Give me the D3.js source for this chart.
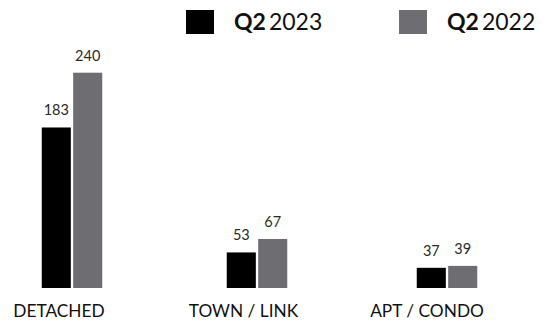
<!DOCTYPE html>
<html>
<head>
<meta charset="utf-8">
<script src="https://cdn.jsdelivr.net/npm/d3@7"></script>
<style>
  html, body { margin: 0; padding: 0; background: #fff; }
  svg { display: block; }
  text { font-family: Lato, "Open Sans", sans-serif; }
</style>
</head>
<body>
<svg id="chart" width="555" height="323"></svg>
<script>
const categories = ["DETACHED", "TOWN / LINK", "APT / CONDO"];
const seriesNames = ["2023", "2022"];
const legendPrefix = "Q2";
const values2023 = [183, 53, 37];
const values2022 = [240, 67, 39];
const seriesColors = ["#000000", "#6d6d72"];

const W = 555, H = 323;
const svg = d3.select("#chart");

const baseline = 288;
// bars appear drawn on a non-zero baseline in the reference
const y = d3.scaleLinear().domain([16, 240]).range([baseline, 72.7]);

const xCenter = d3.scaleOrdinal().domain(categories).range([72, 257, 447]);
const xLabel = d3.scaleOrdinal().domain(categories).range([59, 243.5, 427]);
const barW = 28, gap = 4.5;
const xSeries = d3.scaleBand().domain(seriesNames).range([-(barW + gap / 2), barW + gap / 2]).paddingInner(gap / (2 * barW + gap));

const data = [];
categories.forEach((c, i) => {
  data.push({ cat: c, s: seriesNames[0], v: values2023[i], color: seriesColors[0] });
  data.push({ cat: c, s: seriesNames[1], v: values2022[i], color: seriesColors[1] });
});

svg.selectAll("rect.bar").data(data).join("rect")
  .attr("class", "bar")
  .attr("x", d => xCenter(d.cat) + xSeries(d.s))
  .attr("width", xSeries.bandwidth())
  .attr("y", d => y(d.v))
  .attr("height", d => baseline - y(d.v))
  .attr("fill", d => d.color);

svg.selectAll("text.val").data(data).join("text")
  .attr("class", "val")
  .attr("x", d => xCenter(d.cat) + xSeries(d.s) + xSeries.bandwidth() / 2)
  .attr("y", d => y(d.v) - 12)
  .attr("text-anchor", "middle")
  .attr("font-size", 14.5)
  .attr("font-weight", 400)
  .attr("fill", "#2a2a2a")
  .text(d => d.v);

svg.selectAll("text.cat").data(categories).join("text")
  .attr("class", "cat")
  .attr("x", d => xLabel(d))
  .attr("y", 316.5)
  .attr("text-anchor", "middle")
  .attr("font-size", 17.3)
  .attr("fill", "#111")
  .text(d => d);

// legend
const legendX = d3.scaleOrdinal().domain(seriesNames).range([186, 399]);
const lg = svg.selectAll("g.leg").data(seriesNames).join("g")
  .attr("class", "leg")
  .attr("transform", d => `translate(${legendX(d)},10)`);
lg.append("rect").attr("width", 28).attr("height", 24)
  .attr("fill", (d, i) => seriesColors[i]);
const lt = lg.append("text").attr("x", 48).attr("y", 19.5)
  .attr("font-size", 23).attr("fill", "#111");
lt.append("tspan").attr("font-weight", 700).text(legendPrefix);
lt.append("tspan").attr("dx", 3).attr("font-weight", 400).text(d => d);
</script>
</body>
</html>
